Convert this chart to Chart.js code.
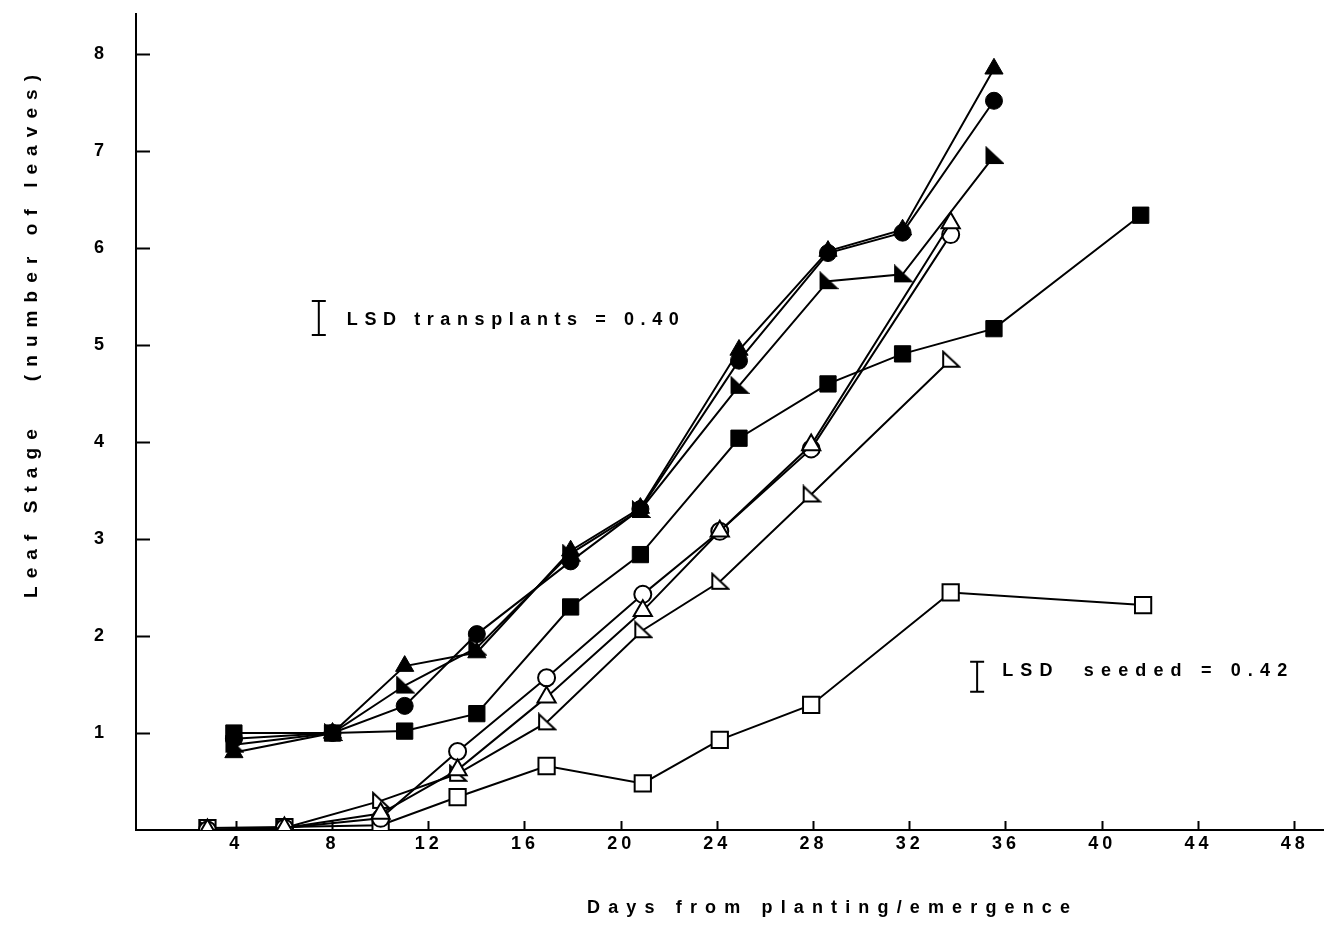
<!DOCTYPE html>
<html>
<head>
<meta charset="utf-8">
<script src="https://cdn.jsdelivr.net/npm/chart.js@4"></script>
<style>
  html, body { margin: 0; padding: 0; background: #fff; }
  canvas { display: block; }
</style>
</head>
<body>
<canvas id="canvas" width="1337" height="927"></canvas>
<script>
// days at which each group was sampled
var transplantDays = [3.9, 8, 11, 14, 17.9, 20.8, 24.9, 28.6, 31.7, 35.5, 41.6];
var seededDays = [2.8, 6, 10, 13.2, 16.9, 20.9, 24.1, 27.9, 33.7, 41.7];

// transplants (filled markers)
var transTriangle = [0.8, 1.0, 1.69, 1.83, 2.88, 3.32, 4.95, 5.97, 6.19, 7.85, null];
var transCircle   = [0.94, 1.0, 1.28, 2.02, 2.77, 3.31, 4.84, 5.95, 6.16, 7.52, null];
var transCorner   = [0.88, 1.0, 1.49, 1.88, 2.85, 3.3, 4.58, 5.66, 5.73, 6.95, null];
var transSquare   = [1.0, 1.0, 1.02, 1.2, 2.3, 2.84, 4.04, 4.6, 4.91, 5.17, 6.34];

// seeded (open markers)
var seedTriangle = [0, 0.02, 0.17, 0.62, 1.37, 2.26, 3.08, 3.97, 6.26, null];
var seedCircle   = [0, 0.02, 0.12, 0.81, 1.57, 2.43, 3.08, 3.93, 6.14, null];
var seedCorner   = [0, 0.02, 0.3, 0.58, 1.11, 2.06, 2.56, 3.46, 4.85, null];
var seedSquare   = [0.02, 0.03, 0.05, 0.34, 0.66, 0.48, 0.93, 1.29, 2.45, 2.32];

var xTicks = [4, 8, 12, 16, 20, 24, 28, 32, 36, 40, 44, 48];
var yTicks = [1, 2, 3, 4, 5, 6, 7, 8];

var FONT = '"Liberation Sans", Arial, sans-serif';

// right angled triangle marker
function cornerMark(fill) {
    var c = document.createElement('canvas');
    c.width = 21;
    c.height = 20;
    var g = c.getContext('2d');
    g.beginPath();
    g.moveTo(3, 2);
    g.lineTo(3, 17);
    g.lineTo(19, 17);
    g.closePath();
    g.fillStyle = fill;
    g.fill();
    g.lineWidth = 2;
    g.strokeStyle = '#000';
    g.stroke();
    return c;
}

function series(days, vals, style, filled, radius) {
    var pts = [];
    days.forEach(function (d, i) {
        if (vals[i] !== null && vals[i] !== undefined) pts.push({ x: d, y: vals[i] });
    });
    return {
        data: pts,
        borderColor: '#000',
        borderWidth: 2,
        pointStyle: style,
        pointRadius: radius,
        pointBackgroundColor: filled ? '#000' : '#fff',
        pointBorderColor: '#000',
        pointBorderWidth: filled ? 1 : 2,
        tension: 0,
        fill: false
    };
}

function spacedText(ctx, text, x, y, width) {
    var chars = text.split('');
    var natural = 0;
    chars.forEach(function (c) { natural += ctx.measureText(c).width; });
    var gap = (width - natural) / (chars.length - 1);
    var cx = x;
    chars.forEach(function (c) {
        ctx.fillText(c, cx, y);
        cx += ctx.measureText(c).width + gap;
    });
}

function lsdBar(ctx, x, yc, len) {
    ctx.beginPath();
    ctx.moveTo(x, yc - len / 2);
    ctx.lineTo(x, yc + len / 2);
    ctx.moveTo(x - 7, yc - len / 2);
    ctx.lineTo(x + 7, yc - len / 2);
    ctx.moveTo(x - 7, yc + len / 2);
    ctx.lineTo(x + 7, yc + len / 2);
    ctx.stroke();
}

// keep the axes from reserving extra room for their end labels
function noPad(s) {
    s.paddingTop = 0;
    s.paddingBottom = 0;
    s.paddingLeft = 0;
    s.paddingRight = 0;
}

var textPlugin = {
    id: 'textPlugin',
    beforeDraw: function (chart) {
        chart.ctx.letterSpacing = '4px';
    },
    afterDraw: function (chart) {
        var ctx = chart.ctx;
        var xs = chart.scales.x, ys = chart.scales.y;
        ctx.save();
        ctx.letterSpacing = '0px';
        ctx.fillStyle = '#000';
        ctx.strokeStyle = '#000';
        ctx.lineWidth = 2;
        ctx.textAlign = 'left';

        // axis titles
        ctx.font = 'bold 18px ' + FONT;
        ctx.textBaseline = 'middle';
        spacedText(ctx, 'Days from planting/emergence', 587, 908, 483);

        ctx.save();
        ctx.translate(32, 598);
        ctx.rotate(-Math.PI / 2);
        ctx.font = 'bold 19px ' + FONT;
        spacedText(ctx, 'Leaf Stage   (number of leaves)', 0, 0, 523);
        ctx.restore();

        // LSD notes
        ctx.textBaseline = 'alphabetic';
        ctx.font = 'bold 18px ' + FONT;
        var bx = xs.getPixelForValue(7.43), by = ys.getPixelForValue(5.28);
        lsdBar(ctx, bx, by, 34);
        spacedText(ctx, 'LSD transplants = 0.40', bx + 28, by + 7, 332);

        bx = xs.getPixelForValue(34.8);
        by = ys.getPixelForValue(1.58);
        lsdBar(ctx, bx, by, 30);
        spacedText(ctx, 'LSD  seeded = 0.42', bx + 25, by - 1, 285);
        ctx.restore();
    }
};

window.onload = function () {
    var ctx = document.getElementById('canvas').getContext('2d');
    var tickFont = { family: FONT, size: 18, weight: 'bold' };
    window.leafChart = new Chart(ctx, {
        type: 'line',
        data: {
            datasets: [
                series(transplantDays, transTriangle, 'triangle', true, 10.5),
                series(transplantDays, transCircle, 'circle', true, 8.5),
                series(transplantDays, transCorner, cornerMark('#000'), true, 10),
                series(transplantDays, transSquare, 'rect', true, 11.5),
                series(seededDays, seedTriangle, 'triangle', false, 10.5),
                series(seededDays, seedCircle, 'circle', false, 8.5),
                series(seededDays, seedCorner, cornerMark('#fff'), false, 10),
                series(seededDays, seedSquare, 'rect', false, 11.5)
            ]
        },
        options: {
            responsive: false,
            animation: false,
            events: [],
            layout: { padding: { top: 8, right: 0, left: 0, bottom: 0 } },
            plugins: {
                legend: { display: false },
                tooltip: { enabled: false }
            },
            scales: {
                x: {
                    type: 'linear',
                    min: -0.17,
                    max: 49.2,
                    afterBuildTicks: function (s) {
                        s.ticks = xTicks.map(function (v) { return { value: v }; });
                    },
                    afterFit: function (s) { s.height = 97; noPad(s); },
                    grid: { drawOnChartArea: false, tickLength: -9, tickWidth: 2, tickColor: '#000' },
                    border: { display: true, color: '#000', width: 2 },
                    ticks: { color: '#000', font: tickFont, padding: 12, maxRotation: 0, autoSkip: false }
                },
                y: {
                    type: 'linear',
                    min: 0,
                    max: 8.42,
                    afterBuildTicks: function (s) {
                        s.ticks = yTicks.map(function (v) { return { value: v }; });
                    },
                    afterFit: function (s) { s.width = 136; noPad(s); },
                    grid: { drawOnChartArea: false, tickLength: -14, tickWidth: 2, tickColor: '#000' },
                    border: { display: true, color: '#000', width: 2 },
                    ticks: { color: '#000', font: tickFont, padding: 42, autoSkip: false }
                }
            }
        },
        plugins: [textPlugin]
    });
};
</script>
</body>
</html>
